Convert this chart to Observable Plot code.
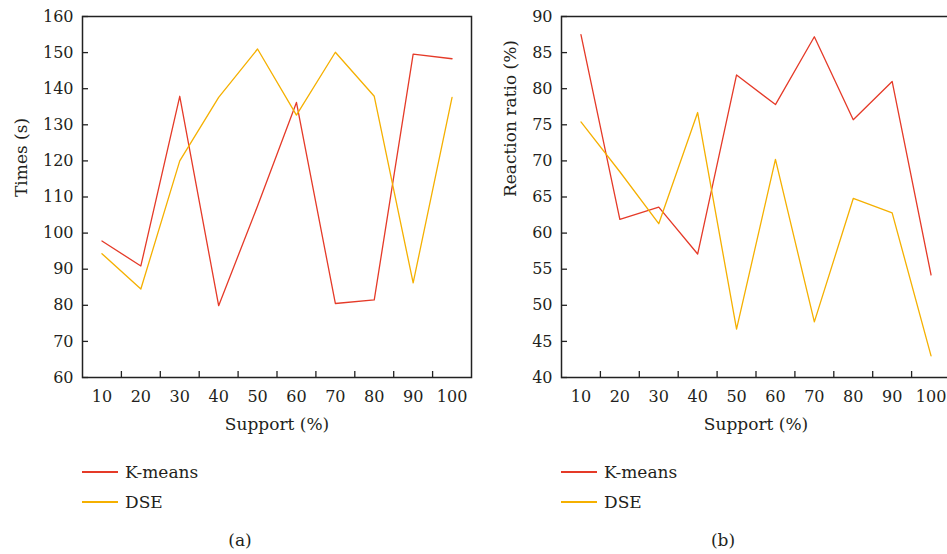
<!DOCTYPE html>
<html>
<head>
<meta charset="utf-8">
<script src="https://cdn.jsdelivr.net/npm/d3@7"></script>
<script src="https://cdn.jsdelivr.net/npm/@observablehq/plot@0.6"></script>
<style>
  html, body { margin: 0; padding: 0; background: #fff; overflow: hidden; width: 947px; height: 554px; }
  body { position: relative; font-family: "DejaVu Serif", serif; color: #231f20; }
  .panel { position: absolute; top: 0; width: 480px; height: 440px; }
  .panel svg { max-width: none !important; width: 480px; height: 440px; }
  .leg { position: absolute; font-size: 17px; line-height: 20px; white-space: nowrap; }
  .leg .sw { position: absolute; left: 0; top: 9px; width: 36px; height: 2px; }
  .leg .lb { position: absolute; left: 43px; top: 0; }
  .cap { position: absolute; font-size: 17px; transform: translateX(-50%); white-space: nowrap; }
</style>
</head>
<body>
<div id="pa" class="panel" style="left:0px"></div>
<div id="pb" class="panel" style="left:480px"></div>
<div id="legA"></div>
<div id="legB"></div>
<div class="cap" style="left:240px; top:530px">(a)</div>
<div class="cap" style="left:723px; top:530px">(b)</div>
<script>
// ---- data ----
const support = [10, 20, 30, 40, 50, 60, 70, 80, 90, 100];
const kmeansTime = [97.8, 90.9, 137.9, 79.9, 107.5, 136.2, 80.5, 81.5, 149.6, 148.3];
const dseTime    = [94.3, 84.5, 120.0, 137.6, 151.0, 132.7, 150.1, 137.9, 86.2, 137.6];
const kmeansRatio = [87.5, 61.9, 63.6, 57.1, 81.9, 77.8, 87.2, 75.7, 81.0, 54.2];
const dseRatio    = [75.4, 68.5, 61.3, 76.7, 46.7, 70.2, 47.7, 64.8, 62.8, 43.0];
const xTickLabels = support;
const xTickBounds = [15, 25, 35, 45, 55, 65, 75, 85, 95];
const timeTicks = [60, 70, 80, 90, 100, 110, 120, 130, 140, 150, 160];
const ratioTicks = [40, 45, 50, 55, 60, 65, 70, 75, 80, 85, 90];
const seriesNames = ["K-means", "DSE"];
const seriesColors = ["#e53a28", "#f5b000"];

function rows(a, b) {
  const out = [];
  support.forEach((s, i) => out.push({support: s, value: a[i], series: seriesNames[0]}));
  support.forEach((s, i) => out.push({support: s, value: b[i], series: seriesNames[1]}));
  return out;
}

function panel({data, yDomain, yTicks, yLabel, marginLeft, marginRight, labelDx}) {
  const width = 480, height = 440, marginTop = 16, marginBottom = 63;
  const plotW = width - marginLeft - marginRight;
  const plotH = height - marginTop - marginBottom;
  return Plot.plot({
    width, height, marginLeft, marginRight, marginTop, marginBottom,
    style: {fontFamily: "DejaVu Serif, serif", fontSize: "16px", color: "#231f20", background: "#fff", overflow: "visible", maxWidth: "none"},
    x: {domain: [5, 105], axis: null},
    y: {domain: yDomain, axis: null},
    color: {domain: seriesNames, range: seriesColors},
    marks: [
      Plot.axisX({ticks: xTickLabels, tickSize: 0, tickPadding: 13, label: null, fontSize: 16}),
      Plot.axisY({ticks: yTicks, tickSize: 0, tickPadding: 9, label: null, fontSize: 16}),
      Plot.ruleX(xTickBounds, {x: d => d, insetTop: plotH - 6, stroke: "#222", strokeWidth: 1.3}),
      Plot.ruleY(yTicks, {y: d => d, insetRight: plotW - 6, stroke: "#222", strokeWidth: 1.3}),
      Plot.line(data, {x: "support", y: "value", z: "series", stroke: "series", strokeWidth: 1.3}),
      Plot.frame({stroke: "#222", strokeWidth: 1.5}),
      Plot.text([yLabel], {text: d => d, frameAnchor: "left", dx: labelDx, rotate: -90, fontSize: 17, fill: "#231f20"}),
      Plot.text(["Support (%)"], {text: d => d, frameAnchor: "bottom", dy: 52, fontSize: 17, fill: "#231f20"})
    ]
  });
}

document.getElementById("pa").append(panel({
  data: rows(kmeansTime, dseTime), yDomain: [60, 160], yTicks: timeTicks,
  yLabel: "Times (s)", marginLeft: 82, marginRight: 9, labelDx: -61
}));
document.getElementById("pb").append(panel({
  data: rows(kmeansRatio, dseRatio), yDomain: [40, 90], yTicks: ratioTicks,
  yLabel: "Reaction ratio (%)", marginLeft: 81, marginRight: 10, labelDx: -51
}));

function legend(id, left) {
  const el = document.getElementById(id);
  seriesNames.forEach((name, i) => {
    const d = document.createElement("div");
    d.className = "leg";
    d.style.left = left + "px";
    d.style.top = (462 + i * 30) + "px";
    d.innerHTML = `<span class="sw" style="background:${seriesColors[i]}"></span><span class="lb">${name}</span>`;
    el.append(d);
  });
}
legend("legA", 82);
legend("legB", 561);
</script>
</body>
</html>
